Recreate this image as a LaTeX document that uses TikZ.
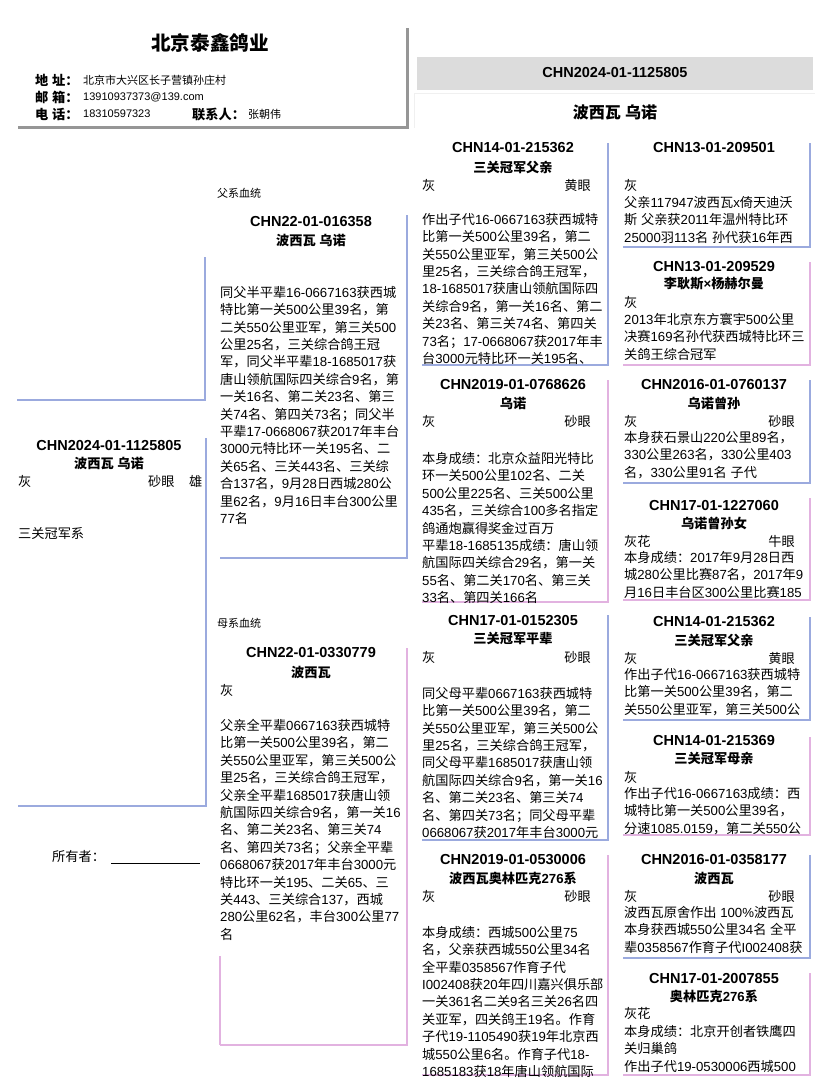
\documentclass[tikz,border=0pt]{standalone}
\usepackage{fontspec}
\setmainfont{Liberation Sans}
\newfontfamily\latinfam{Liberation Sans}
\newfontfamily\cjk{Noto Sans CJK SC}
% switch to the CJK font for Chinese characters
\XeTeXinterchartokenstate=1
\newXeTeXintercharclass\cjkcls
\newcount\cjkc
\def\cjkrange#1#2{\cjkc=#1\relax\loop\XeTeXcharclass\cjkc=\cjkcls\relax\advance\cjkc by 1\relax\ifnum\cjkc<#2\relax\repeat}
\cjkrange{"3000}{"3040}
\cjkrange{"4E00}{"A000}
\cjkrange{"FF00}{"FFF0}
\XeTeXinterchartoks 0 \cjkcls = {\cjk}
\XeTeXinterchartoks 4095 \cjkcls = {\cjk}
\XeTeXinterchartoks \cjkcls 0 = {\latinfam}
\XeTeXinterchartoks \cjkcls 4095 = {\latinfam}
\definecolor{pedblue}{RGB}{155,170,222}
\definecolor{pedpink}{RGB}{226,178,224}
\definecolor{shadowgray}{RGB}{150,150,150}
\definecolor{bargray}{RGB}{220,220,220}
\begin{document}
\begin{tikzpicture}[x=1pt, y=-1pt,
	every node/.style={inner sep=0pt},
	idtxt/.style={font=\bfseries\fontsize{14.5}{16}\selectfont},
	nmtxt/.style={font=\bfseries\fontsize{13.2}{15}\selectfont},
	keytxt/.style={font=\bfseries\fontsize{13.2}{15}\selectfont, anchor=west},
	txt/.style={font=\fontsize{13.2}{17.4}\selectfont, anchor=west},
	eyetxt/.style={font=\fontsize{13.2}{17.4}\selectfont, anchor=east},
	body/.style={font=\fontsize{13.2}{17.4}\selectfont, anchor=north west, align=left},
	small/.style={font=\fontsize{11}{13}\selectfont, anchor=west},
	blueln/.style={draw=pedblue, line width=2.6pt},
	pinkln/.style={draw=pedpink, line width=2.6pt}]
	\useasboundingbox (0,0) rectangle (828,1088);

	% header
	\draw[shadowgray, line width=3pt] (18,127) -- (407,127) -- (407,28);
	\node[font=\bfseries\fontsize{19.6}{22}\selectfont] (farm) at (210,43) {北京泰鑫鸽业};
	\node[keytxt] (addrk) at (35,80) {地 址：};
	\node[small] (addrv) at (83,80) {北京市大兴区长子营镇孙庄村};
	\node[keytxt] (mailk) at (35,97) {邮 箱：};
	\node[small] (mailv) at (83,97) {13910937373@139.com};
	\node[keytxt] (telk) at (35,114) {电 话：};
	\node[small] (telv) at (83,114) {18310597323};
	\node[keytxt] (conk) at (192,114) {联系人：};
	\node[small] (conv) at (248,114) {张朝伟};

	% pigeon bar
	\draw[gray!12, line width=0.8pt] (414,128) -- (414,93) -- (815,93);
	\fill[bargray] (417,57) rectangle (813,90);
	\node[idtxt] (pid) at (615,73) {CHN2024-01-1125805};
	\node[font=\bfseries\fontsize{16}{18}\selectfont] (pnm) at (615,112) {波西瓦 乌诺};

	% subject
	\draw[blueln] (17,400) -- (205,400) -- (205,257);
	\draw[blueln] (18,806) -- (206,806) -- (206,438);
	\node[idtxt] (sid) at (109,445) {CHN2024-01-1125805};
	\node[nmtxt] (snm) at (109,463) {波西瓦 乌诺};
	\node[txt] (scol) at (18,481) {灰};
	\node[txt] (seye) at (148,481) {砂眼};
	\node[txt] (ssex) at (189,481) {雄};
	\node[txt] (sline) at (18,534) {三关冠军系};
	\node[txt] (own) at (52,856) {所有者：};
	\coordinate (ownend) at (200,863);
	\draw[line width=0.6pt] (own.east |- ownend) ++(6,0) -- (ownend);

	% sire
	\node[small] (sirelbl) at (217,193) {父系血统};
	\draw[blueln] (220,558) -- (407,558) -- (407,215);
	\node[idtxt] (fid) at (311,222) {CHN22-01-016358};
	\node[nmtxt] (fnm) at (311,240) {波西瓦 乌诺};
	\node[body] (ftxt) at (220,286) {同父半平辈16-0667163获西城\\特比第一关500公里39名，第\\二关550公里亚军，第三关500\\公里25名，三关综合鸽王冠\\军，同父半平辈18-1685017获\\唐山领航国际四关综合9名，第\\一关16名、第二关23名、第三\\关74名、第四关73名；同父半\\平辈17-0668067获2017年丰台\\3000元特比环一关195名、二\\关65名、三关443名、三关综\\合137名，9月28日西城280公\\里62名，9月16日丰台300公里\\77名};

	% dam
	\node[small] (damlbl) at (217,623) {母系血统};
	\draw[pinkln] (220,956) -- (220,1045);
	\draw[pinkln] (220,1045) -- (407,1045) -- (407,648);
	\node[idtxt] (mid) at (311,653) {CHN22-01-0330779};
	\node[nmtxt] (mnm) at (311,672) {波西瓦};
	\node[txt] (mcol) at (220,690) {灰};
	\node[body] (mtxt) at (220,719) {父亲全平辈0667163获西城特\\比第一关500公里39名，第二\\关550公里亚军，第三关500公\\里25名，三关综合鸽王冠军，\\父亲全平辈1685017获唐山领\\航国际四关综合9名，第一关16\\名、第二关23名、第三关74\\名、第四关73名；父亲全平辈\\0668067获2017年丰台3000元\\特比环一关195、二关65、三\\关443、三关综合137，西城\\280公里62名，丰台300公里77\\名};

	% grandparents
	\draw[blueln] (422,365) -- (608,365) -- (608,143);
	\node[idtxt] (ffid) at (513,148) {CHN14-01-215362};
	\node[nmtxt] (ffnm) at (513,167) {三关冠军父亲};
	\node[txt] (ffcol) at (422,185) {灰};
	\node[eyetxt] (ffeye) at (591,185) {黄眼};
	\node[body] (fftxt) at (422,213) {作出子代16-0667163获西城特\\比第一关500公里39名，第二\\关550公里亚军，第三关500公\\里25名，三关综合鸽王冠军，\\18-1685017获唐山领航国际四\\关综合9名，第一关16名、第二\\关23名、第三关74名、第四关\\73名；17-0668067获2017年丰\\台3000元特比环一关195名、};

	\draw[pinkln] (422,602) -- (608,602) -- (608,380);
	\node[idtxt] (fmid) at (513,385) {CHN2019-01-0768626};
	\node[nmtxt] (fmnm) at (513,403) {乌诺};
	\node[txt] (fmcol) at (422,421) {灰};
	\node[eyetxt] (fmeye) at (591,421) {砂眼};
	\node[body] (fmtxt) at (422,452) {本身成绩：北京众益阳光特比\\环一关500公里102名、二关\\500公里225名、三关500公里\\435名，三关综合100多名指定\\鸽通炮赢得奖金过百万\\平辈18-1685135成绩：唐山领\\航国际四关综合29名，第一关\\55名、第二关170名、第三关\\33名、第四关166名};

	\draw[blueln] (422,840) -- (608,840) -- (608,615);
	\node[idtxt] (mfid) at (513,621) {CHN17-01-0152305};
	\node[nmtxt] (mfnm) at (513,638) {三关冠军平辈};
	\node[txt] (mfcol) at (422,657) {灰};
	\node[eyetxt] (mfeye) at (591,657) {砂眼};
	\node[body] (mftxt) at (422,687) {同父母平辈0667163获西城特\\比第一关500公里39名，第二\\关550公里亚军，第三关500公\\里25名，三关综合鸽王冠军，\\同父母平辈1685017获唐山领\\航国际四关综合9名，第一关16\\名、第二关23名、第三关74\\名、第四关73名；同父母平辈\\0668067获2017年丰台3000元};

	\draw[pinkln] (422,1075) -- (608,1075) -- (608,855);
	\node[idtxt] (mmid) at (513,860) {CHN2019-01-0530006};
	\node[nmtxt] (mmnm) at (513,878) {波西瓦奥林匹克276系};
	\node[txt] (mmcol) at (422,896) {灰};
	\node[eyetxt] (mmeye) at (591,896) {砂眼};
	\node[body] (mmtxt) at (422,926) {本身成绩：西城500公里75\\名，父亲获西城550公里34名\\全平辈0358567作育子代\\I002408获20年四川嘉兴俱乐部\\一关361名二关9名三关26名四\\关亚军，四关鸽王19名。作育\\子代19-1105490获19年北京西\\城550公里6名。作育子代18-\\1685183获18年唐山领航国际};

	% great-grandparents
	\draw[blueln] (623,247) -- (810,247) -- (810,143);
	\node[idtxt] (fffid) at (714,148) {CHN13-01-209501};
	\node[txt] (fffcol) at (624,185) {灰};
	\node[body] (ffftxt) at (624,196) {父亲117947波西瓦x倚天迪沃\\斯 父亲获2011年温州特比环\\25000羽113名 孙代获16年西};

	\draw[pinkln] (623,365) -- (810,365) -- (810,262);
	\node[idtxt] (ffmid) at (714,267) {CHN13-01-209529};
	\node[nmtxt] (ffmnm) at (714,284) {李耿斯×杨赫尔曼};
	\node[txt] (ffmcol) at (624,302) {灰};
	\node[body] (ffmtxt) at (624,313) {2013年北京东方寰宇500公里\\决赛169名孙代获西城特比环三\\关鸽王综合冠军};

	\draw[blueln] (623,483) -- (810,483) -- (810,380);
	\node[idtxt] (fmfid) at (714,385) {CHN2016-01-0760137};
	\node[nmtxt] (fmfnm) at (714,403) {乌诺曾孙};
	\node[txt] (fmfcol) at (624,421) {灰};
	\node[eyetxt] (fmfeye) at (795,421) {砂眼};
	\node[body] (fmftxt) at (624,431) {本身获石景山220公里89名，\\330公里263名，330公里403\\名，330公里91名 子代};

	\draw[pinkln] (623,600) -- (810,600) -- (810,498);
	\node[idtxt] (fmmid) at (714,505) {CHN17-01-1227060};
	\node[nmtxt] (fmmnm) at (714,523) {乌诺曾孙女};
	\node[txt] (fmmcol) at (624,541) {灰花};
	\node[eyetxt] (fmmeye) at (795,541) {牛眼};
	\node[body] (fmmtxt) at (624,551) {本身成绩：2017年9月28日西\\城280公里比赛87名，2017年9\\月16日丰台区300公里比赛185};

	\draw[blueln] (623,720) -- (810,720) -- (810,617);
	\node[idtxt] (mffid) at (714,622) {CHN14-01-215362};
	\node[nmtxt] (mffnm) at (714,640) {三关冠军父亲};
	\node[txt] (mffcol) at (624,658) {灰};
	\node[eyetxt] (mffeye) at (795,658) {黄眼};
	\node[body] (mfftxt) at (624,668) {作出子代16-0667163获西城特\\比第一关500公里39名，第二\\关550公里亚军，第三关500公};

	\draw[pinkln] (623,835) -- (810,835) -- (810,737);
	\node[idtxt] (mfmid) at (714,741) {CHN14-01-215369};
	\node[nmtxt] (mfmnm) at (714,758) {三关冠军母亲};
	\node[txt] (mfmcol) at (624,777) {灰};
	\node[body] (mfmtxt) at (624,787) {作出子代16-0667163成绩：西\\城特比第一关500公里39名，\\分速1085.0159，第二关550公};

	\draw[blueln] (623,958) -- (810,958) -- (810,855);
	\node[idtxt] (mmfid) at (714,860) {CHN2016-01-0358177};
	\node[nmtxt] (mmfnm) at (714,878) {波西瓦};
	\node[txt] (mmfcol) at (624,896) {灰};
	\node[eyetxt] (mmfeye) at (795,896) {砂眼};
	\node[body] (mmftxt) at (624,906) {波西瓦原舍作出 100\%波西瓦\\本身获西城550公里34名 全平\\辈0358567作育子代I002408获};

	\draw[pinkln] (623,1075) -- (810,1075) -- (810,973);
	\node[idtxt] (mmmid) at (714,978) {CHN17-01-2007855};
	\node[nmtxt] (mmmnm) at (714,996) {奥林匹克276系};
	\node[txt] (mmmcol) at (624,1013) {灰花};
	\node[body] (mmmtxt) at (624,1025) {本身成绩：北京开创者铁鹰四\\关归巢鸽\\作出子代19-0530006西城500};
\end{tikzpicture}
\end{document}
